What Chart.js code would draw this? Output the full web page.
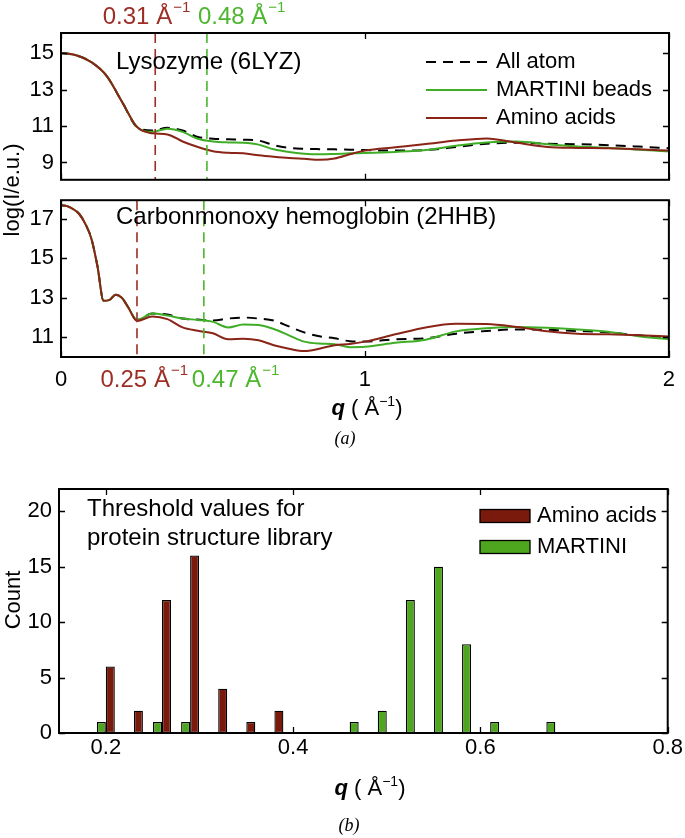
<!DOCTYPE html>
<html lang="en">
<head>
<meta charset="UTF-8">
<title>Scattering profiles and thresholds</title>
<script src="https://cdn.jsdelivr.net/npm/chart.js@4.4.1/dist/chart.umd.min.js"></script>
<style>
  body { margin: 0; background: #fff; }
  #wrap { position: relative; width: 685px; height: 838px; overflow: hidden; font-family: "Liberation Sans", Arial, sans-serif; color: #000; }
  canvas { position: absolute; left: 0; }
  .t { position: absolute; white-space: nowrap; font-size: 22px; line-height: 1; }
  .rot { transform: translate(-50%, -50%) rotate(-90deg); }
  .ctr { transform: translate(-50%, -50%); }
  .cap { font-family: "Liberation Serif", serif; font-style: italic; font-size: 18px; }
  sup { font-size: 14px; vertical-align: 9px; line-height: 0; }
</style>
</head>
<body>
<div id="wrap">
  <canvas id="lyz" width="685" height="200" style="top:0"></canvas>
  <canvas id="hb" width="685" height="250" style="top:180px"></canvas>
  <canvas id="hist" width="685" height="340" style="top:460px"></canvas>
  <div class="t rot" style="left:12px; top:190px">log(I/e.u.)</div>
  <div class="t ctr" style="left:367px; top:408px"><b><i>q</i></b> ( Å<sup>−1</sup>)</div>
  <div class="t ctr cap" style="left:345px; top:438px">(a)</div>
  <div class="t rot" style="left:13px; top:600px">Count</div>
  <div class="t ctr" style="left:370px; top:788px"><b><i>q</i></b> ( Å<sup>−1</sup>)</div>
  <div class="t ctr cap" style="left:349px; top:825px">(b)</div>
</div>
<script>
// ---- data: panel (a) top, lysozyme
const qLyz = [0, 0.05, 0.1, 0.15, 0.2, 0.25, 0.3, 0.35, 0.4, 0.45, 0.5, 0.55, 0.6, 0.65, 0.7, 0.75, 0.8, 0.85, 0.9, 0.95, 1.0,
  1.1, 1.2, 1.3, 1.4, 1.5, 1.6, 1.7, 1.8, 1.9, 2.0];
const lyzAllAtom = [15.0, 14.88, 14.5, 13.75, 12.35, 10.95, 10.75, 10.9, 10.75, 10.4, 10.3, 10.27, 10.25, 10.2, 9.95, 9.8, 9.75, 9.73, 9.72, 9.7, 9.68,
  9.65, 9.68, 9.85, 10.03, 10.08, 10.03, 10.0, 9.95, 9.87, 9.78];
const lyzMartini = [15.0, 14.88, 14.5, 13.75, 12.35, 10.95, 10.68, 10.85, 10.68, 10.3, 10.15, 10.1, 10.08, 9.98, 9.72, 9.57, 9.48, 9.45, 9.47, 9.5, 9.52,
  9.58, 9.68, 9.92, 10.1, 10.15, 10.0, 9.88, 9.8, 9.7, 9.6];
const lyzAmino = [15.0, 14.88, 14.5, 13.75, 12.35, 10.95, 10.6, 10.54, 10.15, 9.85, 9.62, 9.53, 9.5, 9.4, 9.32, 9.25, 9.2, 9.15, 9.22, 9.45, 9.65,
  9.83, 10.01, 10.2, 10.32, 10.08, 9.85, 9.8, 9.78, 9.72, 9.65];
const lyzCuts = [0.31, 0.48];

// ---- data: panel (a) bottom, carbonmonoxy hemoglobin
const qHb = [0, 0.02, 0.04, 0.06, 0.08, 0.1, 0.12, 0.14, 0.16, 0.18, 0.2, 0.22, 0.25, 0.3, 0.35, 0.4, 0.45, 0.5, 0.55, 0.6, 0.65, 0.7,
  0.75, 0.8, 0.85, 0.9, 0.95, 1.0, 1.1, 1.2, 1.3, 1.4, 1.5, 1.6, 1.7, 1.8, 1.9, 2.0];
const hbAllAtom = [17.7, 17.65, 17.5, 17.25, 16.75, 16.0, 14.6, 12.85, 12.9, 13.15, 13.0, 12.55, 11.88, 12.2, 12.15, 11.95, 11.9, 11.85, 11.95, 12.0, 11.95, 11.85,
  11.55, 11.25, 11.05, 10.95, 10.8, 10.78, 10.9, 10.95, 11.18, 11.32, 11.4, 11.38, 11.32, 11.25, 11.1, 11.0];
const hbMartini = [17.7, 17.65, 17.5, 17.25, 16.75, 16.0, 14.6, 12.85, 12.9, 13.15, 13.0, 12.55, 11.88, 12.2, 12.1, 11.95, 11.88, 11.78, 11.5, 11.65, 11.62, 11.42,
  11.1, 10.78, 10.68, 10.65, 10.5, 10.52, 10.72, 10.88, 11.3, 11.46, 11.52, 11.48, 11.4, 11.28, 11.05, 10.9];
const hbAmino = [17.7, 17.65, 17.5, 17.25, 16.75, 16.0, 14.6, 12.85, 12.9, 13.15, 13.0, 12.55, 11.83, 12.05, 11.92, 11.5, 11.33, 11.2, 10.9, 10.93, 10.85, 10.6,
  10.42, 10.3, 10.42, 10.6, 10.66, 10.78, 11.15, 11.5, 11.68, 11.67, 11.52, 11.3, 11.18, 11.15, 11.1, 11.04];
const hbCuts = [0.25, 0.47];

const profileXTicks = [0, 1, 2];
const lyzYTicks = [9, 11, 13, 15];
const hbYTicks = [11, 13, 15, 17];

// ---- data: panel (b), threshold histogram
const binQ = [0.20, 0.23, 0.26, 0.29, 0.32, 0.35, 0.38, 0.41, 0.44, 0.47, 0.50, 0.53, 0.56, 0.59, 0.62, 0.65, 0.68];
const aminoCount = [6, 2, 12, 16, 4, 1, 2, 0, 0, 0, 0, 0, 0, 0, 0, 0, 0];
const martiniCount = [1, 0, 1, 1, 0, 0, 0, 0, 0, 1, 2, 12, 15, 8, 1, 0, 1];
const histXTicks = [0.2, 0.4, 0.6, 0.8];
const histYTicks = [0, 5, 10, 15, 20];

const RED = '#8a2417', GREEN = '#3fad26';
const CUT_RED = '#9c2e26', CUT_GREEN = '#4cb62e';
const BAR_RED = '#7a1a0c', BAR_GREEN = '#4ea51e';
const F = '"Liberation Sans", Arial, sans-serif';

function qLabel(ctx, v, x, y, align, color) {
  const main = v.toFixed(2) + ' Å';
  ctx.font = '24px ' + F;
  const w1 = ctx.measureText(main).width;
  ctx.font = '15px ' + F;
  const w2 = ctx.measureText('−1').width;
  const x0 = align === 'right' ? x - w1 - w2 - 1 : x;
  ctx.fillStyle = color;
  ctx.textAlign = 'left';
  ctx.textBaseline = 'middle';
  ctx.font = '24px ' + F;
  ctx.fillText(main, x0, y);
  ctx.font = '15px ' + F;
  ctx.fillText('−1', x0 + w1 + 1, y - 9);
}

// frame, inward ticks, cut-off lines, notes and legend (config kept in closure)
function deco(cfg) {
  return {
    id: 'deco',
    afterDatasetsDraw(chart) {
      const ctx = chart.ctx, a = chart.chartArea, xs = chart.scales.x, ys = chart.scales.y;
      ctx.save();
      (cfg.cuts || []).forEach(c => {
        const px = xs.getPixelForValue(c.q);
        ctx.strokeStyle = c.stroke;
        ctx.lineWidth = 1.6;
        ctx.setLineDash([10, 6]);
        ctx.beginPath();
        ctx.moveTo(px, a.top);
        ctx.lineTo(px, a.bottom);
        ctx.stroke();
        ctx.setLineDash([]);
        qLabel(ctx, c.q, px + c.dx, cfg.cutsBelow ? a.bottom + 23 : a.top - 16, c.align, c.stroke);
      });

      ctx.strokeStyle = '#000';
      ctx.lineWidth = 1.3;
      ctx.beginPath();
      cfg.xTicks.forEach(v => {
        const px = Math.round(xs.getPixelForValue(v)) + 0.5;
        ctx.moveTo(px, a.bottom); ctx.lineTo(px, a.bottom - 6);
        ctx.moveTo(px, a.top); ctx.lineTo(px, a.top + 6);
      });
      cfg.yTicks.forEach(v => {
        const py = Math.round(ys.getPixelForValue(v)) + 0.5;
        ctx.moveTo(a.left, py); ctx.lineTo(a.left + 6, py);
        ctx.moveTo(a.right, py); ctx.lineTo(a.right - 6, py);
      });
      ctx.stroke();
      ctx.lineWidth = 2;
      ctx.strokeRect(a.left, a.top, a.right - a.left, a.bottom - a.top);

      ctx.fillStyle = '#000';
      ctx.font = '24px ' + F;
      ctx.textAlign = 'left';
      ctx.textBaseline = 'middle';
      (cfg.notes || []).forEach(n => ctx.fillText(n.text, n.x, n.y));

      ctx.font = '22px ' + F;
      (cfg.legend || []).forEach(l => {
        if (l.swatch) {
          ctx.fillStyle = l.swatch;
          ctx.fillRect(cfg.legendX, l.y - 6.5, 50, 13);
          ctx.lineWidth = 1.3;
          ctx.strokeStyle = '#000';
          ctx.strokeRect(cfg.legendX, l.y - 6.5, 50, 13);
          ctx.fillStyle = '#000';
          ctx.fillText(l.text, cfg.legendX + 57, l.y);
        } else {
          ctx.strokeStyle = l.stroke;
          ctx.lineWidth = 2;
          ctx.setLineDash(l.dash || []);
          ctx.beginPath();
          ctx.moveTo(cfg.legendX, l.y);
          ctx.lineTo(cfg.legendX + 61, l.y);
          ctx.stroke();
          ctx.setLineDash([]);
          ctx.fillStyle = '#000';
          ctx.fillText(l.text, cfg.legendX + 70, l.y);
        }
      });
      ctx.restore();
    }
  };
}

function curveSets(q, allAtom, martini, amino) {
  const pts = v => q.map((x, i) => ({ x: x, y: v[i] }));
  return [
    { label: 'Amino acids', data: pts(amino), borderColor: RED, borderWidth: 2 },
    { label: 'MARTINI beads', data: pts(martini), borderColor: GREEN, borderWidth: 2 },
    { label: 'All atom', data: pts(allAtom), borderColor: '#000', borderWidth: 2, borderDash: [10, 7] }
  ];
}

function fixedTicks(list) {
  return scale => { scale.ticks = list.map(v => ({ value: v })); };
}

function profileChart(id, sets, yMin, yMax, yTicks, pad, xHeight, decoCfg) {
  return new Chart(document.getElementById(id), {
    type: 'line',
    data: { datasets: sets },
    options: {
      responsive: false,
      animation: false,
      layout: { padding: pad },
      elements: { point: { radius: 0 }, line: { cubicInterpolationMode: 'monotone', fill: false } },
      plugins: { legend: { display: false }, tooltip: { enabled: false } },
      scales: {
        x: {
          type: 'linear', min: 0, max: 2,
          grid: { display: false, drawTicks: false }, border: { display: false },
          afterBuildTicks: fixedTicks(profileXTicks),
          afterFit: s => { s.height = xHeight; },
          ticks: { display: xHeight > 0, padding: 10, color: '#000', font: { family: F, size: 22 }, maxRotation: 0, autoSkip: false }
        },
        y: {
          min: yMin, max: yMax,
          grid: { display: false, drawTicks: false }, border: { display: false },
          afterBuildTicks: fixedTicks(yTicks),
          afterFit: s => { s.width = 61; },
          ticks: { padding: 7, color: '#000', font: { family: F, size: 22 } }
        }
      }
    },
    plugins: [deco(decoCfg)]
  });
}

const lineLegend = [
  { text: 'All atom', stroke: '#000', dash: [10, 7], y: 62 },
  { text: 'MARTINI beads', stroke: GREEN, y: 90 },
  { text: 'Amino acids', stroke: RED, y: 118 }
];

profileChart('lyz', curveSets(qLyz, lyzAllAtom, lyzMartini, lyzAmino), 8.05, 16.1, lyzYTicks,
  { top: 33, bottom: 5, left: 0, right: 16 }, 0, {
    xTicks: profileXTicks, yTicks: lyzYTicks,
    cuts: [
      { q: lyzCuts[0], stroke: CUT_RED, dx: 35, align: 'right' },
      { q: lyzCuts[1], stroke: CUT_GREEN, dx: -9, align: 'left' }
    ],
    notes: [{ text: 'Lysozyme (6LYZ)', x: 116, y: 62 }],
    legendX: 426, legend: lineLegend
  });

profileChart('hb', curveSets(qHb, hbAllAtom, hbMartini, hbAmino), 10.0, 17.95, hbYTicks,
  { top: 15, bottom: 33, left: 0, right: 16 }, 40, {
    xTicks: profileXTicks, yTicks: hbYTicks, cutsBelow: true,
    cuts: [
      { q: hbCuts[0], stroke: CUT_RED, dx: 51, align: 'right' },
      { q: hbCuts[1], stroke: CUT_GREEN, dx: -12, align: 'left' }
    ],
    notes: [{ text: 'Carbonmonoxy hemoglobin (2HHB)', x: 116, y: 37 }]
  });

const toBars = counts => binQ.map((q, i) => ({ x: q, y: counts[i] > 0 ? counts[i] : null }));

new Chart(document.getElementById('hist'), {
  type: 'bar',
  data: {
    datasets: [
      { label: 'MARTINI', data: toBars(martiniCount), backgroundColor: BAR_GREEN },
      { label: 'Amino acids', data: toBars(aminoCount), backgroundColor: BAR_RED }
    ]
  },
  options: {
    responsive: false,
    animation: false,
    layout: { padding: { top: 29, bottom: 27, left: 0, right: 17 } },
    datasets: { bar: { categoryPercentage: 0.64, barPercentage: 1.0, borderColor: '#000', borderWidth: 1.3, borderSkipped: false } },
    plugins: { legend: { display: false }, tooltip: { enabled: false } },
    scales: {
      x: {
        type: 'linear', min: 0.15, max: 0.8, offset: false,
        grid: { display: false, drawTicks: false, offset: false }, border: { display: false },
        afterBuildTicks: fixedTicks(histXTicks),
        afterFit: s => { s.height = 40; },
        ticks: { padding: 2, color: '#000', font: { family: F, size: 22 }, maxRotation: 0, autoSkip: false }
      },
      y: {
        min: 0, max: 22,
        grid: { display: false, drawTicks: false }, border: { display: false },
        afterBuildTicks: fixedTicks(histYTicks),
        afterFit: s => { s.width = 59; },
        ticks: { padding: 7, color: '#000', font: { family: F, size: 22 } }
      }
    }
  },
  plugins: [deco({
    xTicks: histXTicks, yTicks: histYTicks,
    notes: [{ text: 'Threshold values for', x: 87, y: 49 }, { text: 'protein structure library', x: 87, y: 78 }],
    legendX: 480,
    legend: [{ text: 'Amino acids', swatch: BAR_RED, y: 56 }, { text: 'MARTINI', swatch: BAR_GREEN, y: 87 }]
  })]
});
</script>
</body>
</html>
